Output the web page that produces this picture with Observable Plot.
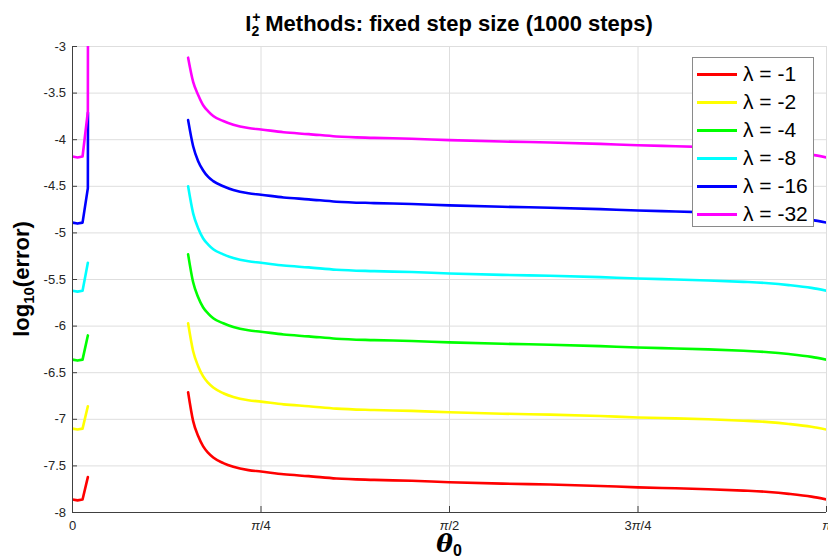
<!DOCTYPE html>
<html>
<head>
<meta charset="utf-8">
<script src="https://cdn.jsdelivr.net/npm/d3@7"></script>
<script src="https://cdn.jsdelivr.net/npm/@observablehq/plot@0.6"></script>
<style>
  html, body { margin: 0; padding: 0; background: #fff; }
  #wrap { position: relative; width: 828px; height: 557px; overflow: hidden; font-family: "Liberation Sans", Arial, sans-serif; }
  #wrap > svg.plot { position: absolute; left: 0; top: 0; }
  #ov { position: absolute; left: 0; top: 0; pointer-events: none; }
  #legend { position: absolute; left: 692px; top: 57px; width: 122px; height: 170px; border: 1px solid #8a8a8a; background: #fff; box-sizing: border-box; padding-top: 2px; }
  #legend .row { height: 28px; display: flex; align-items: center; }
  #legend .sw { width: 40px; height: 3px; margin-left: 4px; margin-right: 6px; }
  #legend .lb { font-size: 21px; color: #000; white-space: nowrap; }
</style>
</head>
<body>
<div id="wrap"></div>
<script>
// ---- data ----
const lambdas = [-1, -2, -4, -8, -16, -32];
const colors = ["#ff0000", "#ffff00", "#00ff00", "#00ffff", "#0000ff", "#ff00ff"];

const xTicks = [0, Math.PI / 4, Math.PI / 2, 3 * Math.PI / 4, Math.PI];
const xTickLabels = ["0", "π/4", "π/2", "3π/4", "π"];
const yTicks = [-8, -7.5, -7, -6.5, -6, -5.5, -5, -4.5, -4, -3.5, -3];

// left segments (small theta)
const thetaLeft4 = [0, 0.0209, 0.0419, 0.0640];
const thetaLeft5 = [0, 0.0209, 0.0419, 0.0640, 0.0645];
const leftM1  = [-7.86, -7.87, -7.86, -7.62];
const leftM2  = [-7.10, -7.11, -7.10, -6.86];
const leftM4  = [-6.36, -6.37, -6.36, -6.10];
const leftM8  = [-5.62, -5.63, -5.62, -5.32];
const leftM16 = [-4.89, -4.90, -4.89, -4.52, -3.71];
const leftM32 = [-4.18, -4.19, -4.18, -3.70, -2.50];

// right segments
const thetaRight = [0.4817, 0.5027, 0.5236, 0.5445, 0.5655, 0.5864, 0.6283, 0.6702, 0.7330, 0.7854,
  0.8796, 0.9844, 1.0996, 1.2566, 1.4137, 1.5708, 1.7907, 1.9897, 2.1991, 2.3562,
  2.5133, 2.6494, 2.7960, 2.9007, 2.9845, 3.0788, 3.1416];
const rightM1 = [-6.71, -7.02, -7.18, -7.29, -7.36, -7.41, -7.47, -7.51, -7.545, -7.56,
  -7.59, -7.61, -7.635, -7.65, -7.66, -7.675, -7.69, -7.70, -7.715, -7.73,
  -7.74, -7.75, -7.765, -7.78, -7.80, -7.83, -7.86];
const rightM2 = [-5.97, -6.27, -6.43, -6.54, -6.61, -6.66, -6.72, -6.76, -6.795, -6.81,
  -6.84, -6.86, -6.885, -6.90, -6.91, -6.925, -6.94, -6.95, -6.965, -6.98,
  -6.99, -7.00, -7.015, -7.03, -7.05, -7.08, -7.11];
const rightM4 = [-5.23, -5.53, -5.69, -5.80, -5.865, -5.915, -5.97, -6.01, -6.045, -6.06,
  -6.09, -6.11, -6.135, -6.15, -6.16, -6.175, -6.19, -6.20, -6.215, -6.23,
  -6.24, -6.25, -6.265, -6.28, -6.30, -6.33, -6.36];
const rightM8 = [-4.50, -4.79, -4.95, -5.06, -5.125, -5.175, -5.23, -5.27, -5.305, -5.32,
  -5.35, -5.37, -5.395, -5.41, -5.42, -5.435, -5.45, -5.46, -5.475, -5.49,
  -5.50, -5.51, -5.525, -5.54, -5.56, -5.59, -5.62];
const rightM16 = [-3.79, -4.07, -4.23, -4.33, -4.40, -4.445, -4.50, -4.54, -4.575, -4.59,
  -4.62, -4.64, -4.665, -4.68, -4.69, -4.705, -4.72, -4.73, -4.745, -4.76,
  -4.77, -4.78, -4.795, -4.81, -4.83, -4.86, -4.89];
const rightM32 = [-3.12, -3.38, -3.52, -3.63, -3.695, -3.745, -3.80, -3.84, -3.875, -3.89,
  -3.92, -3.94, -3.965, -3.98, -3.99, -4.005, -4.02, -4.03, -4.045, -4.06,
  -4.07, -4.08, -4.095, -4.11, -4.13, -4.16, -4.19];

const leftSeries = [[thetaLeft4, leftM1], [thetaLeft4, leftM2], [thetaLeft4, leftM4], [thetaLeft4, leftM8], [thetaLeft5, leftM16], [thetaLeft5, leftM32]];
const rightSeries = [rightM1, rightM2, rightM4, rightM8, rightM16, rightM32];

// ---- build tables ----
const rowsL = [], rowsR = [];
lambdas.forEach((lam, i) => {
  const [tl, vl] = leftSeries[i];
  tl.forEach((t, j) => rowsL.push({theta: t, value: vl[j], lambda: lam}));
  thetaRight.forEach((t, j) => rowsR.push({theta: t, value: rightSeries[i][j], lambda: lam}));
});

const font = "'Liberation Sans', Arial, Helvetica, sans-serif";
const tickColor = "#262626";

const chart = Plot.plot({
  width: 828,
  height: 557,
  marginLeft: 72,
  marginRight: 2,
  marginTop: 46,
  marginBottom: 45,
  style: {fontFamily: font, background: "transparent", overflow: "visible"},
  x: {domain: [0, Math.PI]},
  y: {domain: [-8, -3]},
  color: {domain: lambdas, range: colors},
  marks: [
    Plot.gridX(xTicks, {stroke: "#dedede", strokeOpacity: 1}),
    Plot.gridY(yTicks, {stroke: "#dedede", strokeOpacity: 1}),
    Plot.line(rowsL, {x: "theta", y: "value", z: "lambda", stroke: "lambda", strokeWidth: 2.6, clip: true, curve: "linear"}),
    Plot.line(rowsR, {x: "theta", y: "value", z: "lambda", stroke: "lambda", strokeWidth: 2.6, clip: true, curve: "monotone-x"}),
    Plot.axisX(xTicks, {
      tickSize: -6, tickPadding: 14, fontSize: 13, color: tickColor, stroke: "#404040",
      tickFormat: d => xTickLabels[xTicks.findIndex(t => Math.abs(t - d) < 1e-9)],
      label: null
    }),
    Plot.axisY(yTicks, {
      tickSize: -5, tickPadding: 11.5, fontSize: 13, color: tickColor, stroke: "#404040",
      tickFormat: d => String(d),
      label: null
    }),
    Plot.ruleX([0], {stroke: "#404040", strokeWidth: 1}),
    Plot.ruleY([-8], {stroke: "#404040", strokeWidth: 1})
  ]
});
chart.classList.add("plot");

const wrap = document.getElementById("wrap");
wrap.appendChild(chart);

// italic pi in x tick labels
chart.querySelectorAll('g[aria-label="x-axis tick label"] text').forEach(t => {
  const s = t.textContent;
  if (s.includes("π")) {
    t.innerHTML = s.replace("π", '<tspan font-style="italic">π</tspan>');
  }
});

// overlay: title and axis labels
const ns = "http://www.w3.org/2000/svg";
const ov = document.createElementNS(ns, "svg");
ov.setAttribute("id", "ov");
ov.setAttribute("width", 828);
ov.setAttribute("height", 557);
ov.setAttribute("font-family", font);
ov.innerHTML = `
  <text x="449" y="31" text-anchor="middle" font-weight="bold" font-size="22" fill="#000">I<tspan font-size="14" dx="1" dy="-9">+</tspan><tspan font-size="14" dx="-9" dy="14">2</tspan><tspan dy="-5" dx="6">Methods: fixed step size (1000 steps)</tspan></text>
  <text transform="translate(29,279) rotate(-90)" text-anchor="middle" font-weight="bold" font-size="22" fill="#000">log<tspan font-size="15" dy="5">10</tspan><tspan dy="-5">(error)</tspan></text>
  <text x="449" y="552" text-anchor="middle" font-weight="bold" font-size="25" fill="#000"><tspan font-style="italic" font-family="'DejaVu Serif', serif">θ</tspan><tspan font-size="16" dy="4">0</tspan></text>
`;
wrap.appendChild(ov);

// legend
const legend = document.createElement("div");
legend.id = "legend";
lambdas.forEach((lam, i) => {
  const row = document.createElement("div");
  row.className = "row";
  const sw = document.createElement("div");
  sw.className = "sw";
  sw.style.background = colors[i];
  const lb = document.createElement("span");
  lb.className = "lb";
  lb.textContent = "λ = " + lam;
  row.appendChild(sw);
  row.appendChild(lb);
  legend.appendChild(row);
});
wrap.appendChild(legend);
</script>
</body>
</html>
